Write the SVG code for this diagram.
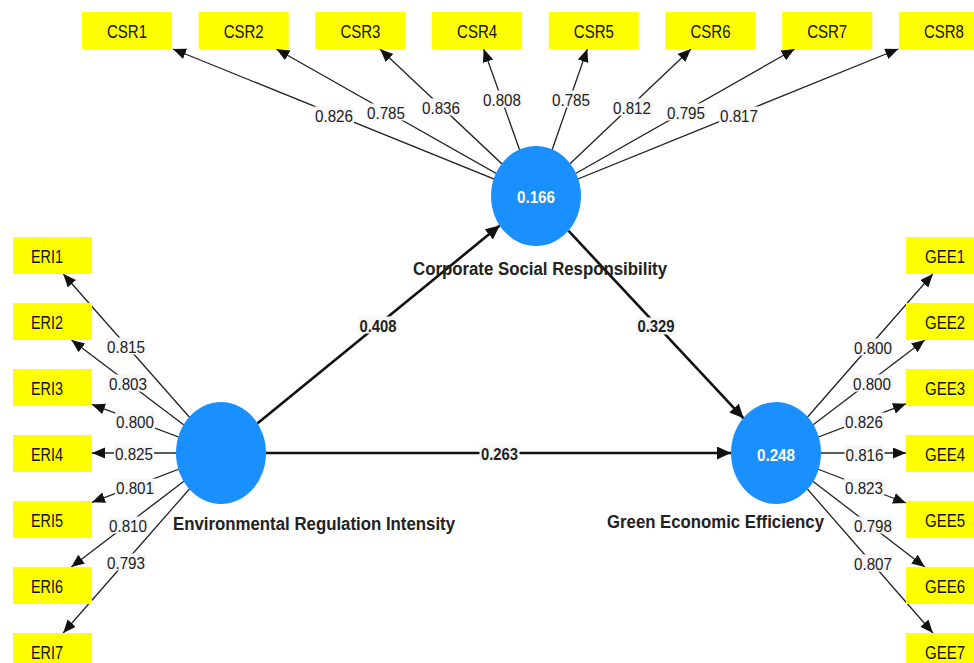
<svg xmlns="http://www.w3.org/2000/svg" width="974" height="663" viewBox="0 0 974 663">
<style>
.ind rect{fill:#ffff00}
.ind text{font-family:"Liberation Sans",Arial,sans-serif;font-size:18px;fill:#111;text-anchor:middle}
.lat ellipse{fill:#1a90ff}
.lat .v{font-family:"Liberation Sans",Arial,sans-serif;font-size:17px;font-weight:bold;fill:#fff;text-anchor:middle}
.lat .n{font-family:"Liberation Sans",Arial,sans-serif;font-size:18px;font-weight:bold;fill:#222;text-anchor:middle}
.m{stroke:#222;stroke-width:1.3;fill:none;marker-end:url(#ah)}
.s{stroke:#111;stroke-width:2.6;fill:none;marker-end:url(#ahs)}
.lb rect{fill:#f7f7f7}
.lb text{font-family:"Liberation Sans",Arial,sans-serif;font-size:17px;fill:#222;text-anchor:middle}
.lb.b text{font-weight:bold}
</style>
<defs>
<marker id="ah" markerUnits="userSpaceOnUse" markerWidth="14" markerHeight="12" refX="13" refY="5.5" orient="auto"><path d="M0,0 L13,5.5 L0,11 z" fill="#111"/></marker>
<marker id="ahs" markerUnits="userSpaceOnUse" markerWidth="16" markerHeight="14" refX="14" refY="6.5" orient="auto"><path d="M0,0 L14,6.5 L0,13 z" fill="#111"/></marker>
</defs>
<rect width="974" height="663" fill="#fff"/>
<g id="connectors">
<line class="m" x1="536" y1="196" x2="173" y2="49"/>
<line class="m" x1="536" y1="196" x2="276.4" y2="49"/>
<line class="m" x1="536" y1="196" x2="380" y2="49"/>
<line class="m" x1="536" y1="196" x2="483.7" y2="49"/>
<line class="m" x1="536" y1="196" x2="587.3" y2="49"/>
<line class="m" x1="536" y1="196" x2="691" y2="49"/>
<line class="m" x1="536" y1="196" x2="794.6" y2="49"/>
<line class="m" x1="536" y1="196" x2="898.3" y2="49"/>
<line class="m" x1="221" y1="453" x2="63.3" y2="274"/>
<line class="m" x1="221" y1="453" x2="71.5" y2="340"/>
<line class="m" x1="221" y1="453" x2="92" y2="404.4"/>
<line class="m" x1="221" y1="453" x2="92" y2="453"/>
<line class="m" x1="221" y1="453" x2="92" y2="502.3"/>
<line class="m" x1="221" y1="453" x2="71.3" y2="567"/>
<line class="m" x1="221" y1="453" x2="63.2" y2="633"/>
<line class="m" x1="776" y1="453" x2="932.8" y2="274"/>
<line class="m" x1="776" y1="453" x2="924.7" y2="340"/>
<line class="m" x1="776" y1="453" x2="906" y2="403.8"/>
<line class="m" x1="776" y1="453" x2="906" y2="453"/>
<line class="m" x1="776" y1="453" x2="906" y2="503"/>
<line class="m" x1="776" y1="453" x2="924.8" y2="567"/>
<line class="m" x1="776" y1="453" x2="932.9" y2="633"/>
<line class="s" x1="257.3" y1="423.4" x2="499.7" y2="225.6"/>
<line class="s" x1="568.4" y1="230.7" x2="743.6" y2="418.3"/>
<line class="s" x1="266" y1="453" x2="731" y2="453"/>
<g class="lb">
<rect x="314" y="106.5" width="40" height="17"/><text x="334" y="121.5" textLength="38" lengthAdjust="spacingAndGlyphs">0.826</text>
<rect x="366" y="103.5" width="40" height="17"/><text x="386" y="118.5" textLength="38" lengthAdjust="spacingAndGlyphs">0.785</text>
<rect x="421" y="98.5" width="40" height="17"/><text x="441" y="113.5" textLength="38" lengthAdjust="spacingAndGlyphs">0.836</text>
<rect x="482" y="90.5" width="40" height="17"/><text x="502" y="105.5" textLength="38" lengthAdjust="spacingAndGlyphs">0.808</text>
<rect x="551" y="90.5" width="40" height="17"/><text x="571" y="105.5" textLength="38" lengthAdjust="spacingAndGlyphs">0.785</text>
<rect x="612" y="98.5" width="40" height="17"/><text x="632" y="113.5" textLength="38" lengthAdjust="spacingAndGlyphs">0.812</text>
<rect x="666" y="103.5" width="40" height="17"/><text x="686" y="118.5" textLength="38" lengthAdjust="spacingAndGlyphs">0.795</text>
<rect x="719" y="106.5" width="40" height="17"/><text x="739" y="121.5" textLength="38" lengthAdjust="spacingAndGlyphs">0.817</text>
<rect x="106" y="337.5" width="40" height="17"/><text x="126" y="352.5" textLength="38" lengthAdjust="spacingAndGlyphs">0.815</text>
<rect x="108" y="374.5" width="40" height="17"/><text x="128" y="389.5" textLength="38" lengthAdjust="spacingAndGlyphs">0.803</text>
<rect x="115" y="412.5" width="40" height="17"/><text x="135" y="427.5" textLength="38" lengthAdjust="spacingAndGlyphs">0.800</text>
<rect x="114" y="444.5" width="40" height="17"/><text x="134" y="459.5" textLength="38" lengthAdjust="spacingAndGlyphs">0.825</text>
<rect x="115" y="478.5" width="40" height="17"/><text x="135" y="493.5" textLength="38" lengthAdjust="spacingAndGlyphs">0.801</text>
<rect x="108" y="516.5" width="40" height="17"/><text x="128" y="531.5" textLength="38" lengthAdjust="spacingAndGlyphs">0.810</text>
<rect x="106" y="553.5" width="40" height="17"/><text x="126" y="568.5" textLength="38" lengthAdjust="spacingAndGlyphs">0.793</text>
<rect x="853" y="338.5" width="40" height="17"/><text x="873" y="353.5" textLength="38" lengthAdjust="spacingAndGlyphs">0.800</text>
<rect x="852" y="374.5" width="40" height="17"/><text x="872" y="389.5" textLength="38" lengthAdjust="spacingAndGlyphs">0.800</text>
<rect x="844" y="412.5" width="40" height="17"/><text x="864" y="427.5" textLength="38" lengthAdjust="spacingAndGlyphs">0.826</text>
<rect x="844.5" y="445.5" width="40" height="17"/><text x="864.5" y="460.5" textLength="38" lengthAdjust="spacingAndGlyphs">0.816</text>
<rect x="844" y="478.5" width="40" height="17"/><text x="864" y="493.5" textLength="38" lengthAdjust="spacingAndGlyphs">0.823</text>
<rect x="853" y="516.5" width="40" height="17"/><text x="873" y="531.5" textLength="38" lengthAdjust="spacingAndGlyphs">0.798</text>
<rect x="853" y="554.5" width="40" height="17"/><text x="873" y="569.5" textLength="38" lengthAdjust="spacingAndGlyphs">0.807</text>
</g>
<g class="lb b">
<rect x="358" y="316.5" width="40" height="17"/><text x="378" y="332" textLength="37" lengthAdjust="spacingAndGlyphs">0.408</text>
<rect x="636" y="317.5" width="40" height="17"/><text x="656" y="332" textLength="37" lengthAdjust="spacingAndGlyphs">0.329</text>
<rect x="479.5" y="444.5" width="40" height="17"/><text x="499.5" y="459.5" textLength="37" lengthAdjust="spacingAndGlyphs">0.263</text>
</g>
</g>
<g id="CSR" class="lat"><ellipse cx="536" cy="196" rx="45" ry="50"/><text class="v" x="536" y="203" textLength="38" lengthAdjust="spacingAndGlyphs">0.166</text><text class="n" x="540" y="275" textLength="254" lengthAdjust="spacingAndGlyphs">Corporate Social Responsibility</text></g>
<g id="ERI" class="lat"><ellipse cx="221" cy="453" rx="45" ry="51"/><text class="n" x="314" y="530" textLength="282" lengthAdjust="spacingAndGlyphs">Environmental Regulation Intensity</text></g>
<g id="GEE" class="lat"><ellipse cx="776" cy="453" rx="45" ry="51"/><text class="v" x="776" y="460.5" textLength="38" lengthAdjust="spacingAndGlyphs">0.248</text><text class="n" x="715.5" y="528" textLength="217" lengthAdjust="spacingAndGlyphs">Green Economic Efficiency</text></g>
<g id="CSR1" class="ind"><rect x="82" y="12" width="90" height="37"/><text x="127" y="38" textLength="40" lengthAdjust="spacingAndGlyphs">CSR1</text></g>
<g id="CSR2" class="ind"><rect x="198.7" y="12" width="90" height="37"/><text x="243.7" y="38" textLength="40" lengthAdjust="spacingAndGlyphs">CSR2</text></g>
<g id="CSR3" class="ind"><rect x="315.4" y="12" width="90" height="37"/><text x="360.4" y="38" textLength="40" lengthAdjust="spacingAndGlyphs">CSR3</text></g>
<g id="CSR4" class="ind"><rect x="432.1" y="12" width="90" height="37"/><text x="477.1" y="38" textLength="40" lengthAdjust="spacingAndGlyphs">CSR4</text></g>
<g id="CSR5" class="ind"><rect x="548.8" y="12" width="90" height="37"/><text x="593.8" y="38" textLength="40" lengthAdjust="spacingAndGlyphs">CSR5</text></g>
<g id="CSR6" class="ind"><rect x="665.5" y="12" width="90" height="37"/><text x="710.5" y="38" textLength="40" lengthAdjust="spacingAndGlyphs">CSR6</text></g>
<g id="CSR7" class="ind"><rect x="782.2" y="12" width="90" height="37"/><text x="827.2" y="38" textLength="40" lengthAdjust="spacingAndGlyphs">CSR7</text></g>
<g id="CSR8" class="ind"><rect x="898.9" y="12" width="75.1" height="37"/><text x="943.9" y="38" textLength="40" lengthAdjust="spacingAndGlyphs">CSR8</text></g>
<g id="ERI1" class="ind"><rect x="13" y="237" width="79" height="37"/><text x="47" y="263" textLength="32" lengthAdjust="spacingAndGlyphs">ERI1</text></g>
<g id="ERI2" class="ind"><rect x="13" y="303" width="79" height="37"/><text x="47" y="329" textLength="32" lengthAdjust="spacingAndGlyphs">ERI2</text></g>
<g id="ERI3" class="ind"><rect x="13" y="369" width="79" height="37"/><text x="47" y="395" textLength="32" lengthAdjust="spacingAndGlyphs">ERI3</text></g>
<g id="ERI4" class="ind"><rect x="13" y="435" width="79" height="37"/><text x="47" y="461" textLength="32" lengthAdjust="spacingAndGlyphs">ERI4</text></g>
<g id="ERI5" class="ind"><rect x="13" y="501" width="79" height="37"/><text x="47" y="527" textLength="32" lengthAdjust="spacingAndGlyphs">ERI5</text></g>
<g id="ERI6" class="ind"><rect x="13" y="567" width="79" height="37"/><text x="47" y="593" textLength="32" lengthAdjust="spacingAndGlyphs">ERI6</text></g>
<g id="ERI7" class="ind"><rect x="13" y="633" width="79" height="30"/><text x="47" y="659" textLength="32" lengthAdjust="spacingAndGlyphs">ERI7</text></g>
<g id="GEE1" class="ind"><rect x="906" y="237" width="68" height="37"/><text x="945" y="263" textLength="40" lengthAdjust="spacingAndGlyphs">GEE1</text></g>
<g id="GEE2" class="ind"><rect x="906" y="303" width="68" height="37"/><text x="945" y="329" textLength="40" lengthAdjust="spacingAndGlyphs">GEE2</text></g>
<g id="GEE3" class="ind"><rect x="906" y="369" width="68" height="37"/><text x="945" y="395" textLength="40" lengthAdjust="spacingAndGlyphs">GEE3</text></g>
<g id="GEE4" class="ind"><rect x="906" y="435" width="68" height="37"/><text x="945" y="461" textLength="40" lengthAdjust="spacingAndGlyphs">GEE4</text></g>
<g id="GEE5" class="ind"><rect x="906" y="501" width="68" height="37"/><text x="945" y="527" textLength="40" lengthAdjust="spacingAndGlyphs">GEE5</text></g>
<g id="GEE6" class="ind"><rect x="906" y="567" width="68" height="37"/><text x="945" y="593" textLength="40" lengthAdjust="spacingAndGlyphs">GEE6</text></g>
<g id="GEE7" class="ind"><rect x="906" y="633" width="68" height="30"/><text x="945" y="659" textLength="40" lengthAdjust="spacingAndGlyphs">GEE7</text></g>
</svg>
